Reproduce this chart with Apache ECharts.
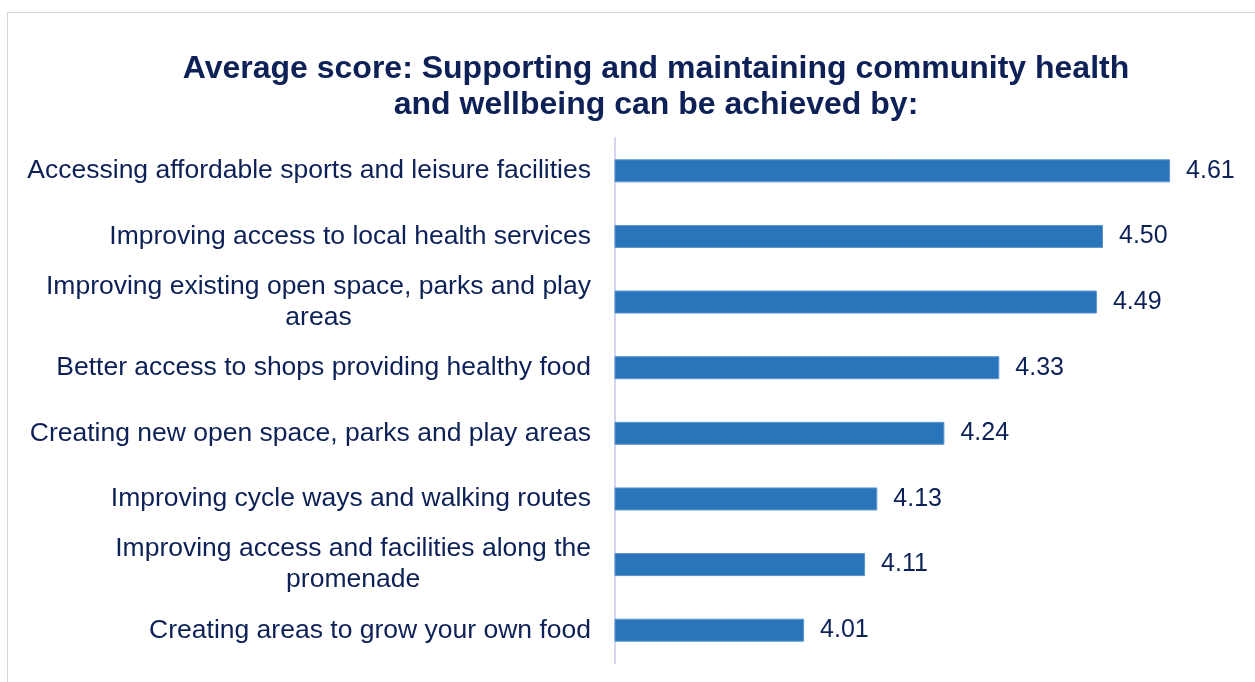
<!DOCTYPE html>
<html>
<head>
<meta charset="utf-8">
<script src="https://cdn.jsdelivr.net/npm/echarts@6/dist/echarts.min.js"></script>
<style>
html,body{margin:0;padding:0;background:#fff;overflow:hidden;}
#frame{position:absolute;left:7px;top:12px;width:1300px;height:700px;border:1px solid #d6d6d6;box-sizing:border-box;}
#chart{position:absolute;left:0;top:0;width:1255px;height:682px;}
</style>
</head>
<body>
<div id="frame"></div>
<div id="chart"></div>
<script>
var titleText = 'Average score: Supporting and maintaining community health\nand wellbeing can be achieved by:';
var categories = [
  'Accessing affordable sports and leisure facilities',
  'Improving access to local health services',
  'Improving existing open space, parks and play\nareas',
  'Better access to shops providing healthy food',
  'Creating new open space, parks and play areas',
  'Improving cycle ways and walking routes',
  'Improving access and facilities along the\npromenade',
  'Creating areas to grow your own food'
];
var scores = [4.61, 4.50, 4.49, 4.33, 4.24, 4.13, 4.11, 4.01];

var navy = '#0d2157';
var font = 'Liberation Sans, Arial, sans-serif';
var chart = echarts.init(document.getElementById('chart'), null, {renderer: 'canvas'});
chart.setOption({
  animation: false,
  title: {
    text: titleText,
    left: 656,
    textAlign: 'center',
    top: 51,
    padding: 0,
    textStyle: {
      fontFamily: font,
      fontSize: 32,
      fontWeight: 'bold',
      color: navy,
      lineHeight: 36
    }
  },
  grid: {left: 615, right: 30, top: 138, bottom: 19, containLabel: false},
  xAxis: {
    type: 'value',
    min: 3.7,
    max: 4.7,
    show: false
  },
  yAxis: {
    type: 'category',
    inverse: true,
    data: categories,
    axisLine: {show: true, lineStyle: {color: '#d6d4ee', width: 2}},
    axisTick: {show: false},
    splitLine: {show: false},
    axisLabel: {
      margin: 24,
      align: 'right',
      fontFamily: font,
      fontSize: 26.5,
      color: navy,
      lineHeight: 31,
      formatter: function (v) {
        return v.split('\n').map(function (l) { return '{c|' + l + '}'; }).join('\n');
      },
      rich: {
        c: {align: 'center', fontFamily: font, fontSize: 26.5, color: navy, lineHeight: 31}
      }
    }
  },
  series: [{
    type: 'bar',
    data: scores,
    barWidth: 23,
    itemStyle: {color: '#2a74b9', borderColor: '#5b96cf', borderWidth: 1},
    label: {
      show: true,
      position: 'right',
      distance: 16,
      fontFamily: font,
      fontSize: 25,
      color: navy,
      formatter: function (p) { return p.value.toFixed(2); }
    }
  }]
});
</script>
</body>
</html>
